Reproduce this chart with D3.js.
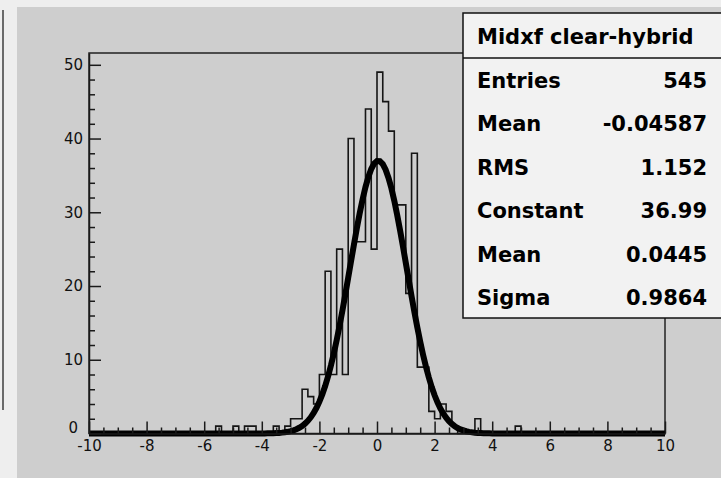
<!DOCTYPE html>
<html>
<head>
<meta charset="utf-8">
<script src="https://cdn.jsdelivr.net/npm/d3@7"></script>
<style>
html,body{margin:0;padding:0;background:#eeeeee;}
svg{display:block;}
</style>
</head>
<body>
<svg id="chart" width="721" height="478"></svg>
<script>
// ---- data ----
const histRange = [-10, 10];
const nBins = 100;
// left edges of the non-empty bins (bin width 0.2)
const binLeftEdges = [-5.6,-5.0,-4.6,-4.4,-3.6,-3.2,-3.0,-2.8,-2.6,-2.4,-2.2,-2.0,-1.8,-1.6,-1.4,-1.2,-1.0,-0.8,-0.6,-0.4,-0.2,0.0,0.2,0.4,0.6,0.8,1.0,1.2,1.4,1.6,1.8,2.0,2.2,2.4,2.6,3.4,4.8];
const binCounts    = [1,1,1,1,1,1,2,2,6,5,4,8,22,8,25,8,40,26,26,44,25,49,45,41,31,31,19,38,9,9,3,2,4,3,1,2,1];
// gaussian fit parameters: constant, mean, sigma
const fitParams = [36.99, 0.0445, 0.9864];
const xTickValues = [-10,-8,-6,-4,-2,0,2,4,6,8,10];
const yTickValues = [0,10,20,30,40,50];
const statsTitle = "Midxf clear-hybrid";
const statsLabels = ["Entries","Mean","RMS","Constant","Mean","Sigma"];
const statsValues = ["545","-0.04587","1.152","36.99","0.0445","0.9864"];

// ---- layout ----
const svg = d3.select("#chart");
const W = 721, H = 478;
const x = d3.scaleLinear().domain(histRange).range([89, 665]);
const y = d3.scaleLinear().domain([0, 51.6]).range([433.5, 53]);

// backgrounds
svg.append("rect").attr("x",0).attr("y",0).attr("width",W).attr("height",H).attr("fill","#eeeeee");
svg.append("rect").attr("x",17).attr("y",7).attr("width",W-17).attr("height",H-7).attr("fill","#cecece");
svg.append("line").attr("x1",3).attr("x2",3).attr("y1",10).attr("y2",410)
  .attr("stroke","#6a6a6a").attr("stroke-width",2);

// frame
const frame = svg.append("g");
frame.append("rect").attr("x",x(-10)).attr("y",y(51.6)).attr("width",x(10)-x(-10)).attr("height",y(0)-y(51.6))
  .attr("fill","none").attr("stroke","#222").attr("stroke-width",1.5);

// histogram counts per bin
const bw = (histRange[1]-histRange[0])/nBins;
const counts = new Array(nBins).fill(0);
binLeftEdges.forEach((e,i)=>{ counts[Math.round((e-histRange[0])/bw)] = binCounts[i]; });

const pts = [[histRange[0],0]];
counts.forEach((c,i)=>{
  const lo = histRange[0]+i*bw, hi = lo+bw;
  pts.push([lo,c]); pts.push([hi,c]);
});
pts.push([histRange[1],0]);
svg.append("path")
  .attr("d", d3.line().x(d=>x(d[0])).y(d=>y(d[1]))(pts))
  .attr("fill","none").attr("stroke","#151515").attr("stroke-width",1.6);

// fit curve (sampled from the fitted gaussian parameters)
const gauss = v => fitParams[0]*Math.exp(-0.5*Math.pow((v-fitParams[1])/fitParams[2],2));
const fitPts = d3.range(0, 201).map(i => histRange[0] + i*(histRange[1]-histRange[0])/200);
svg.append("path")
  .attr("d", d3.line().x(d=>x(d)).y(d=>y(gauss(d)))(fitPts))
  .attr("fill","none").attr("stroke","#000").attr("stroke-width",6).attr("stroke-linejoin","miter");

// axes
const fontAxis = "DejaVu Sans";
const xMinor = d3.range(-10, 10.001, 0.5).filter(v => Math.abs(v/2 - Math.round(v/2))>1e-6);
const yMinor = d3.range(0, 51, 2).filter(v => v % 10 !== 0);

const gx = svg.append("g").attr("transform",`translate(0,${y(0)})`);
gx.call(d3.axisBottom(x).tickValues(xTickValues).tickSize(-12).tickSizeOuter(0).tickPadding(6).tickFormat(d=>String(d)));
const gxm = svg.append("g").attr("transform",`translate(0,${y(0)})`);
gxm.call(d3.axisBottom(x).tickValues(xMinor).tickSize(-6).tickSizeOuter(0).tickFormat(""));
gxm.select(".domain").remove();

const gy = svg.append("g").attr("transform",`translate(${x(-10)},0)`);
gy.call(d3.axisLeft(y).tickValues(yTickValues).tickSize(-12).tickSizeOuter(0).tickPadding(6).tickFormat(d=>String(d)));
const gym = svg.append("g").attr("transform",`translate(${x(-10)},0)`);
gym.call(d3.axisLeft(y).tickValues(yMinor).tickSize(-6).tickSizeOuter(0).tickFormat(""));
gym.select(".domain").remove();

[gx,gxm,gy,gym].forEach(g=>{
  g.selectAll("line").attr("stroke","#1a1a1a").attr("stroke-width",1.5);
  g.selectAll(".domain").attr("stroke","#1a1a1a").attr("stroke-width",1.5);
  g.selectAll("text").attr("font-family",fontAxis).attr("font-size",15).attr("fill","#111");
});
// ROOT shifts the zero label of the y axis
gy.selectAll(".tick text").filter(d=>d===0).attr("x",-11).attr("dy","-0.1em");
gx.selectAll(".tick text").attr("dy","0.75em");

// stats box
const sb = svg.append("g");
sb.append("rect").attr("x",463).attr("y",13).attr("width",270).attr("height",305)
  .attr("fill","#f2f2f2").attr("stroke","#111").attr("stroke-width",1.5);
sb.append("line").attr("x1",463).attr("x2",730).attr("y1",58).attr("y2",58)
  .attr("stroke","#111").attr("stroke-width",1.5);
const sFont = {family:"DejaVu Sans", size:21};
sb.append("text").attr("x",477).attr("y",44).text(statsTitle)
  .attr("font-family",sFont.family).attr("font-weight","bold").attr("font-size",sFont.size).attr("fill","#000");
statsLabels.forEach((lab,i)=>{
  const by = 88 + i*43.4;
  sb.append("text").attr("x",477).attr("y",by).text(lab)
    .attr("font-family",sFont.family).attr("font-weight","bold").attr("font-size",sFont.size).attr("fill","#000");
  sb.append("text").attr("x",707).attr("y",by).attr("text-anchor","end").text(statsValues[i])
    .attr("font-family",sFont.family).attr("font-weight","bold").attr("font-size",sFont.size).attr("fill","#000");
});
</script>
</body>
</html>
